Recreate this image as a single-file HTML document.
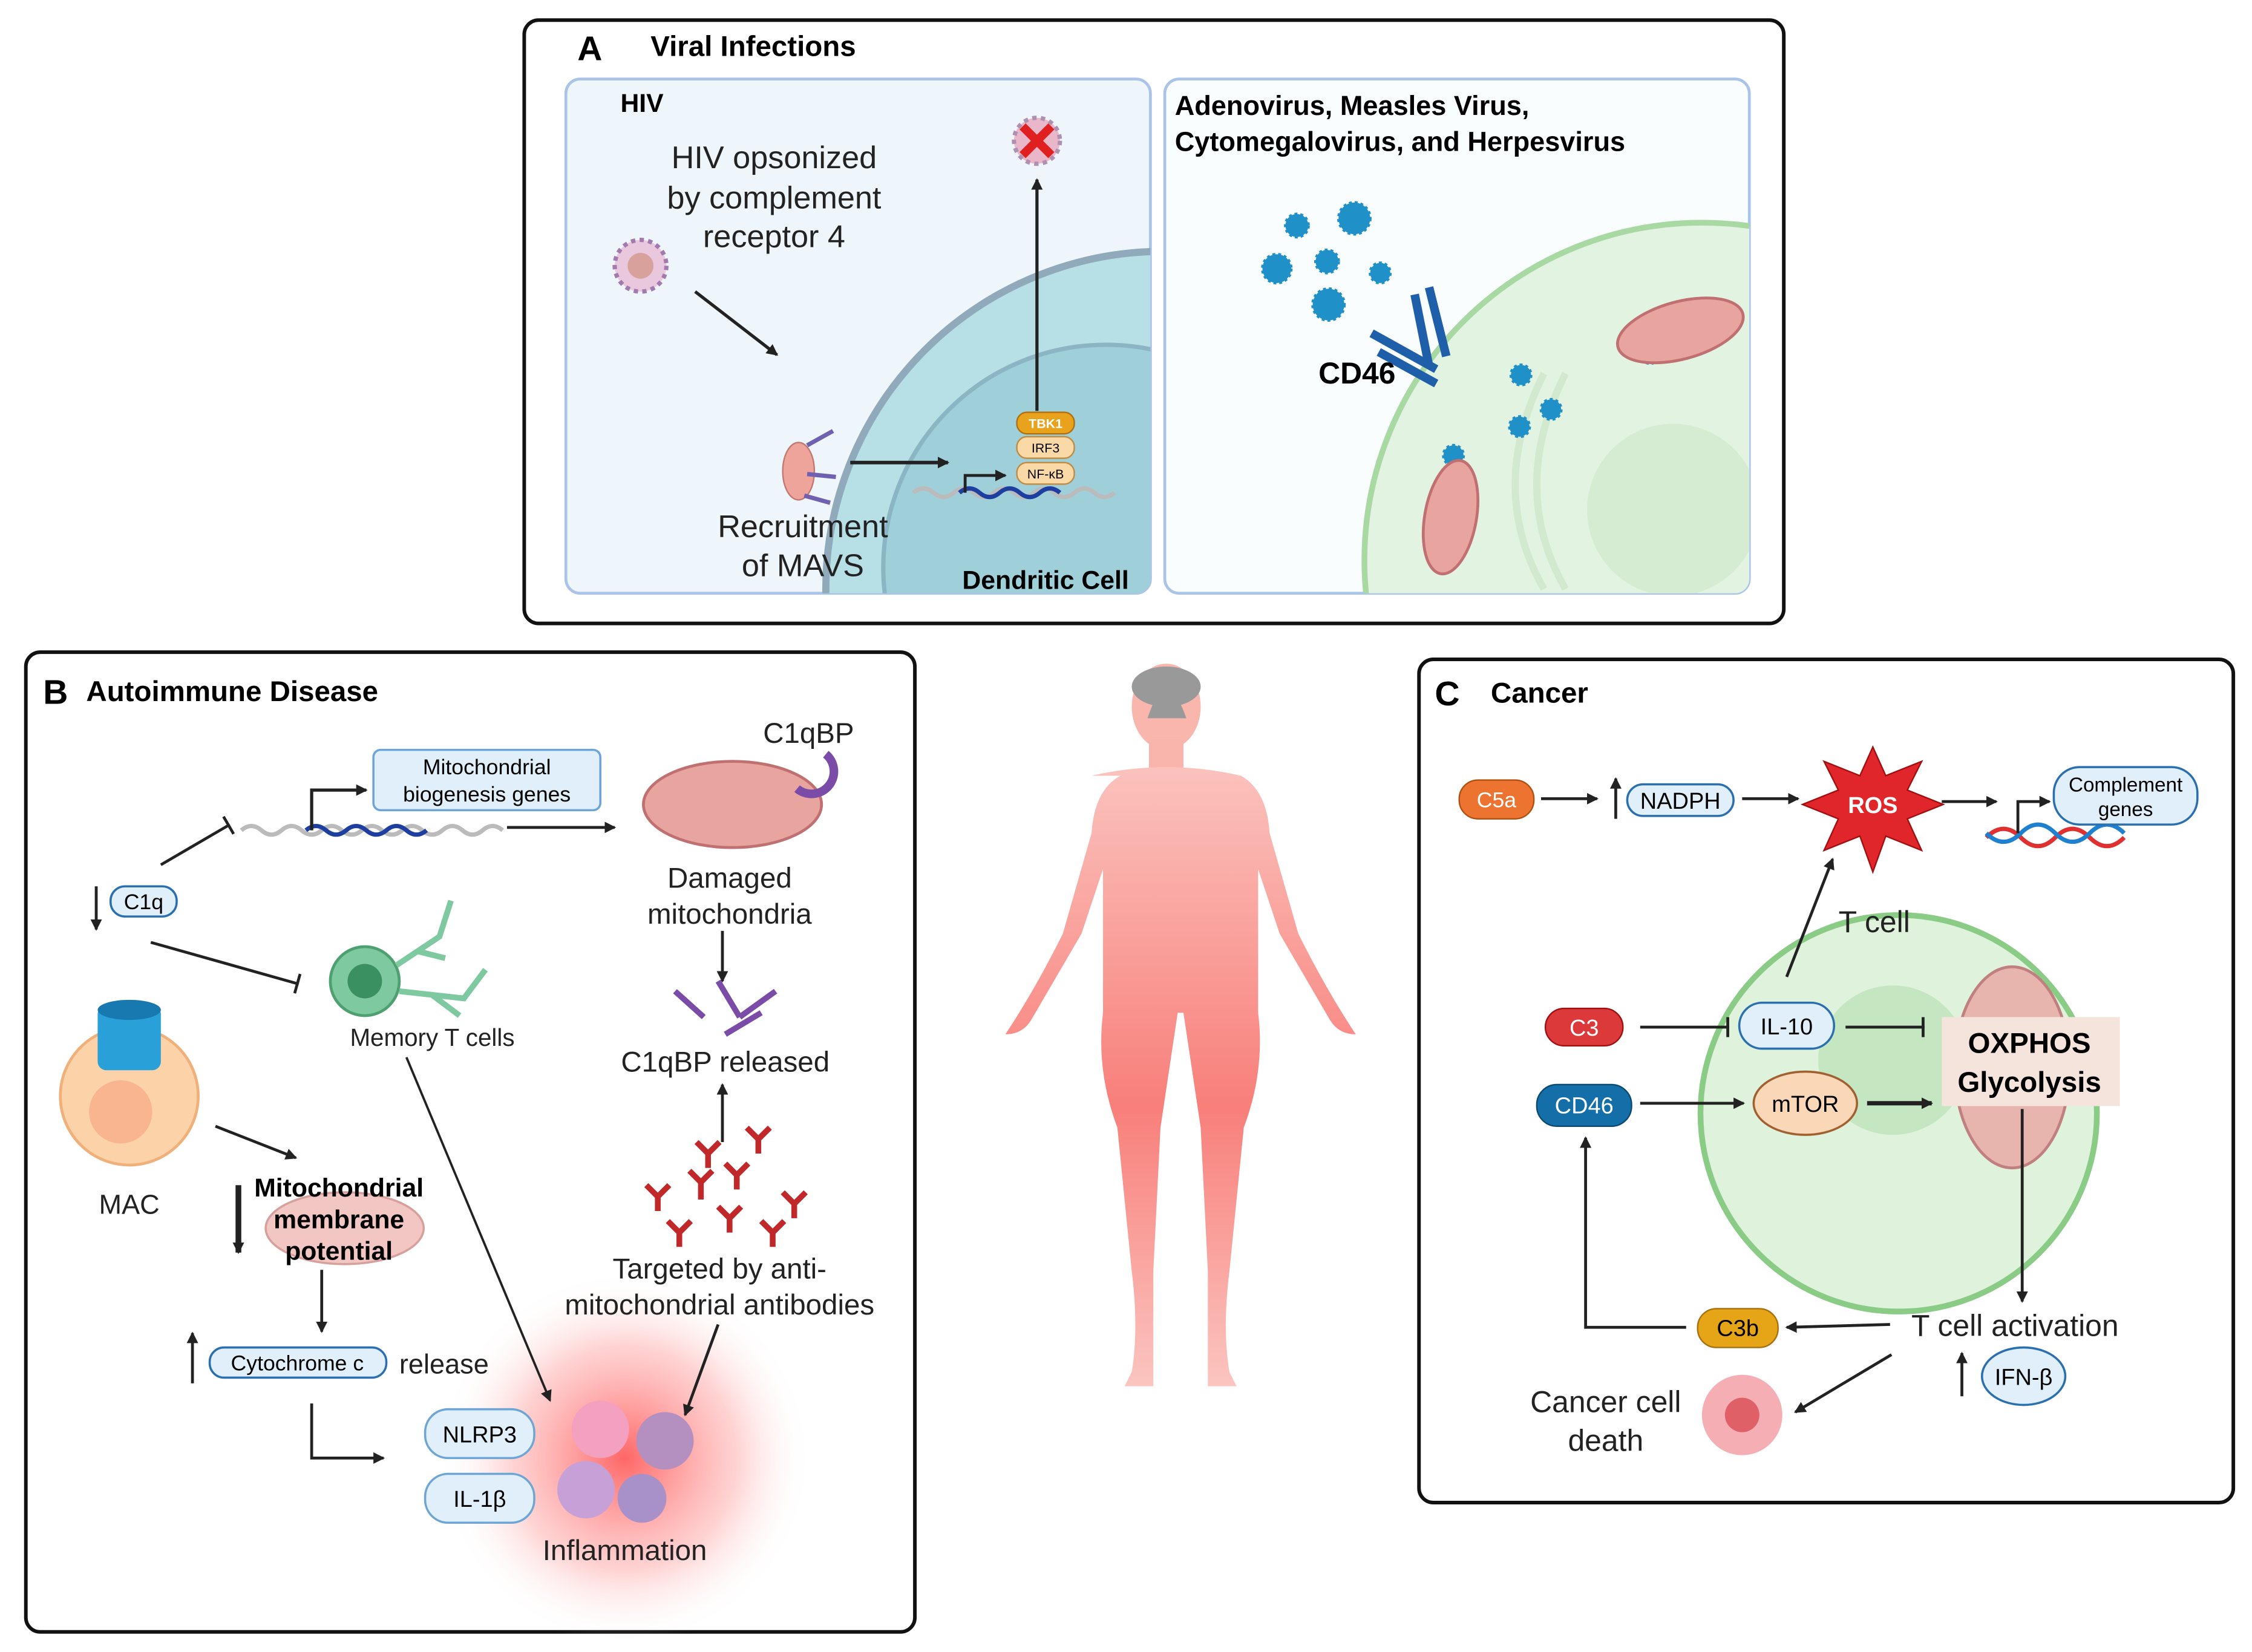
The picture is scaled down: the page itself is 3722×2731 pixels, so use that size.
<!DOCTYPE html>
<html><head><meta charset="utf-8"><style>
html,body{margin:0;padding:0;background:#fff;}
svg{display:block;}
text{font-family:"Liberation Sans",sans-serif;}
</style></head><body>
<svg width="3722" height="2731" viewBox="0 0 1568 1150" preserveAspectRatio="none" xmlns="http://www.w3.org/2000/svg">
<defs>
<marker id="ah" markerWidth="8" markerHeight="8" refX="7" refY="4" orient="auto" markerUnits="userSpaceOnUse"><path d="M0,0 L8,4 L0,8 z" fill="#222"/></marker>
<marker id="tb" markerWidth="4" markerHeight="14" refX="2" refY="7" orient="auto" markerUnits="userSpaceOnUse"><rect x="0" y="0" width="2" height="14" fill="#222"/></marker>
<clipPath id="cA1"><rect x="394" y="55" width="407" height="358" rx="10"/></clipPath>
<clipPath id="cA2"><rect x="811" y="55" width="407" height="358" rx="10"/></clipPath>
<linearGradient id="body" x1="0" y1="0" x2="0" y2="1"><stop offset="0" stop-color="#fbc2bd"/><stop offset="0.55" stop-color="#f87f7a"/><stop offset="1" stop-color="#fbc5c0"/></linearGradient>
<radialGradient id="infl"><stop offset="0" stop-color="#ff4040" stop-opacity="0.8"/><stop offset="0.6" stop-color="#ff8080" stop-opacity="0.35"/><stop offset="1" stop-color="#fff" stop-opacity="0"/></radialGradient>
</defs>

<!-- Panel A -->
<rect x="365" y="14" width="877" height="420" rx="10" fill="#fff" stroke="#111" stroke-width="2.5"/>
<text x="402" y="42" font-size="24" font-weight="bold">A</text>
<text x="453" y="39" font-size="20" font-weight="bold">Viral Infections</text>
<rect x="394" y="55" width="407" height="358" rx="10" fill="#eef6fb" stroke="#a9c4e8" stroke-width="2"/>
<g clip-path="url(#cA1)">
<circle cx="810" cy="410" r="235" fill="#b6dfe6" stroke="#90a9bb" stroke-width="5"/>
<circle cx="770" cy="395" r="155" fill="#9fcfd8" stroke="#8bb5c2" stroke-width="3"/>
</g>
<text x="432" y="78" font-size="18" font-weight="bold">HIV</text>
<text x="539" y="117" font-size="22" text-anchor="middle" fill="#222">HIV opsonized</text>
<text x="539" y="145" font-size="22" text-anchor="middle" fill="#222">by complement</text>
<text x="539" y="172" font-size="22" text-anchor="middle" fill="#222">receptor 4</text>
<circle cx="446" cy="185" r="18" fill="#e9c7dc" stroke="#a37ab0" stroke-width="3" stroke-dasharray="3 3"/>
<circle cx="446" cy="185" r="9" fill="#d9a19b"/>
<line x1="484" y1="203" x2="541" y2="247" stroke="#222" stroke-width="2.2" marker-end="url(#ah)"/>
<ellipse cx="556" cy="328" rx="11" ry="20" fill="#eea49a" stroke="#c07870"/>
<path d="M562,310 l18,-10 M562,330 l20,2 M560,345 l18,5" stroke="#7060b0" stroke-width="3"/>
<line x1="592" y1="322" x2="660" y2="322" stroke="#222" stroke-width="2.5" marker-end="url(#ah)"/>
<text x="559" y="374" font-size="22" text-anchor="middle" fill="#222">Recruitment</text>
<text x="559" y="401" font-size="22" text-anchor="middle" fill="#222">of MAVS</text>
<text x="728" y="410" font-size="18" font-weight="bold" text-anchor="middle">Dendritic Cell</text>
<path d="M636,343 q7,-6 14,0 t14,0 t14,0 t14,0 t14,0 t14,0 t14,0 t14,0 t14,0 t14,0" stroke="#bbb" stroke-width="3" fill="none"/>
<path d="M668,343 q7,-6 14,0 t14,0 t14,0 t14,0 t14,0" stroke="#1e3fa0" stroke-width="3" fill="none"/>
<path d="M672,343 v-12 h28" stroke="#222" stroke-width="2" fill="none" marker-end="url(#ah)"/>
<rect x="708" y="287" width="40" height="15" rx="7" fill="#e8a21c" stroke="#b07010"/><text x="728" y="298" font-size="9" font-weight="bold" fill="#fff" text-anchor="middle">TBK1</text>
<rect x="708" y="304" width="40" height="15" rx="7" fill="#fbd9a7" stroke="#c08a40"/><text x="728" y="315" font-size="9" text-anchor="middle">IRF3</text>
<rect x="708" y="322" width="40" height="15" rx="7" fill="#fbd9a7" stroke="#c08a40"/><text x="728" y="333" font-size="9" text-anchor="middle">NF-κB</text>
<line x1="722" y1="286" x2="722" y2="125" stroke="#222" stroke-width="2.2" marker-end="url(#ah)"/>
<circle cx="722" cy="98" r="16" fill="#e9b7c9" stroke="#b090b0" stroke-dasharray="3 3" stroke-width="3"/>
<path d="M712,88 l20,20 M732,88 l-20,20" stroke="#e02020" stroke-width="6"/>

<rect x="811" y="55" width="407" height="358" rx="10" fill="#fafdfe" stroke="#a9c4e8" stroke-width="2"/>
<g clip-path="url(#cA2)">
<circle cx="1185" cy="390" r="235" fill="#e3f3e2" stroke="#a8d9a3" stroke-width="4"/>
<circle cx="1165" cy="355" r="60" fill="#d5ecd3"/>
<path d="M1090,260 q-40,80 0,150" stroke="#d2e8cf" stroke-width="5" fill="none"/>
<path d="M1075,260 q-40,80 0,150" stroke="#d2e8cf" stroke-width="5" fill="none"/>
</g>
<text x="818" y="80" font-size="19" font-weight="bold">Adenovirus, Measles Virus,</text>
<text x="818" y="105" font-size="19" font-weight="bold">Cytomegalovirus, and Herpesvirus</text>
<g fill="#2090c8" stroke="#2090c8" stroke-width="2" stroke-dasharray="2 2">
<circle cx="903" cy="157" r="8"/><circle cx="943" cy="152" r="11"/><circle cx="889" cy="187" r="10"/><circle cx="924" cy="182" r="8"/><circle cx="961" cy="190" r="7"/><circle cx="925" cy="212" r="11"/><circle cx="1059" cy="261" r="7"/><circle cx="1080" cy="285" r="7"/><circle cx="1058" cy="297" r="7"/><circle cx="1149" cy="246" r="7"/><circle cx="1012" cy="317" r="7"/>
</g>
<path d="M955,232 l45,25 M960,245 l40,22 M985,205 l10,50 M995,200 l12,48" stroke="#1f5ea8" stroke-width="6" fill="none"/>
<text x="918" y="267" font-size="21" font-weight="bold">CD46</text>
<ellipse cx="1170" cy="230" rx="45" ry="20" transform="rotate(-15 1170 230)" fill="#e8a5a0" stroke="#c07070" stroke-width="2"/>
<ellipse cx="1010" cy="360" rx="18" ry="40" transform="rotate(10 1010 360)" fill="#e8a5a0" stroke="#c07070" stroke-width="2"/>

<!-- Panel B -->
<rect x="18" y="454" width="619" height="682" rx="10" fill="#fff" stroke="#111" stroke-width="2.5"/>
<text x="30" y="490" font-size="24" font-weight="bold">B</text>
<text x="60" y="488" font-size="20" font-weight="bold">Autoimmune Disease</text>
<circle cx="435" cy="1015" r="130" fill="url(#infl)"/>
<rect x="260" y="522" width="158" height="42" rx="5" fill="#e1effa" stroke="#6ca5d6" stroke-width="1.5"/>
<text x="339" y="539" font-size="15" text-anchor="middle">Mitochondrial</text>
<text x="339" y="558" font-size="15" text-anchor="middle">biogenesis genes</text>
<path d="M168,578 q7,-6 14,0 t14,0 t14,0 t14,0 t14,0 t14,0 t14,0 t14,0 t14,0 t14,0 t14,0 t14,0 t14,0" stroke="#bbb" stroke-width="3" fill="none"/>
<path d="M213,578 q7,-6 14,0 t14,0 t14,0 t14,0 t14,0 t14,0" stroke="#1e3fa0" stroke-width="3" fill="none"/>
<path d="M217,578 v-28 h38" stroke="#222" stroke-width="2.2" fill="none" marker-end="url(#ah)"/>
<line x1="353" y1="576" x2="428" y2="576" stroke="#222" stroke-width="2" marker-end="url(#ah)"/>
<line x1="112" y1="602" x2="160" y2="574" stroke="#222" stroke-width="2" marker-end="url(#tb)"/>
<line x1="67" y1="617" x2="67" y2="647" stroke="#222" stroke-width="2" marker-end="url(#ah)"/>
<rect x="77" y="617" width="46" height="21" rx="10" fill="#e1effa" stroke="#2a6fb0" stroke-width="1.5"/><text x="100" y="633" font-size="15" text-anchor="middle">C1q</text>
<line x1="105" y1="656" x2="208" y2="685" stroke="#222" stroke-width="2" marker-end="url(#tb)"/>
<ellipse cx="510" cy="560" rx="62" ry="30" fill="#e8a5a0" stroke="#c07070" stroke-width="2"/>
<path d="M575,525 a14,14 0 1 1 -20,24" stroke="#7a4ca8" stroke-width="6" fill="none"/>
<text x="563" y="517" font-size="20" text-anchor="middle" fill="#222">C1qBP</text>
<text x="508" y="618" font-size="20" text-anchor="middle" fill="#222">Damaged</text>
<text x="508" y="643" font-size="20" text-anchor="middle" fill="#222">mitochondria</text>
<line x1="503" y1="648" x2="503" y2="683" stroke="#222" stroke-width="2" marker-end="url(#ah)"/>
<path d="M470,690 l20,18 M500,683 l15,25 M540,690 l-25,18 M530,705 l-25,15" stroke="#7a4ca8" stroke-width="4"/>
<text x="505" y="746" font-size="20" text-anchor="middle" fill="#222">C1qBP released</text>
<line x1="503" y1="795" x2="503" y2="755" stroke="#222" stroke-width="2" marker-end="url(#ah)"/>
<g stroke="#c0282a" stroke-width="4" fill="none">
<path d="M450,825 l8,8 l8,-8 M458,833 v10"/><path d="M480,815 l8,8 l8,-8 M488,823 v12"/><path d="M520,785 l8,8 l8,-8 M528,793 v10"/><path d="M545,830 l8,8 l8,-8 M553,838 v10"/><path d="M500,840 l8,8 l8,-8 M508,848 v10"/><path d="M465,850 l8,8 l8,-8 M473,858 v10"/><path d="M530,850 l8,8 l8,-8 M538,858 v10"/><path d="M505,810 l8,8 l8,-8 M513,818 v10"/><path d="M485,795 l8,8 l8,-8 M493,803 v10"/>
</g>
<text x="501" y="890" font-size="20" text-anchor="middle" fill="#222">Targeted by anti-</text>
<text x="501" y="915" font-size="20" text-anchor="middle" fill="#222">mitochondrial antibodies</text>
<line x1="500" y1="922" x2="477" y2="985" stroke="#222" stroke-width="2" marker-end="url(#ah)"/>
<circle cx="254" cy="683" r="24" fill="#7ec9a0" stroke="#4ea070" stroke-width="2"/><circle cx="254" cy="683" r="12" fill="#3a9060"/>
<path d="M276,672 l30,-20 l8,-25 M290,662 l20,5 M278,690 l45,5 l15,-20 M300,692 l20,15" stroke="#7ec9a0" stroke-width="4" fill="none"/>
<text x="301" y="728" font-size="17" text-anchor="middle" fill="#222">Memory T cells</text>
<line x1="283" y1="736" x2="383" y2="975" stroke="#222" stroke-width="1.6" marker-end="url(#ah)"/>
<circle cx="90" cy="763" r="48" fill="#fcd3a8" stroke="#f0b07a" stroke-width="2"/>
<circle cx="84" cy="774" r="22" fill="#f8b590"/>
<rect x="68" y="700" width="44" height="45" rx="6" fill="#2aa0d8"/><ellipse cx="90" cy="703" rx="22" ry="7" fill="#1878b0"/>
<text x="90" y="845" font-size="19" text-anchor="middle" fill="#222">MAC</text>
<line x1="150" y1="784" x2="206" y2="806" stroke="#222" stroke-width="2" marker-end="url(#ah)"/>
<ellipse cx="240" cy="855" rx="55" ry="25" fill="#f1c6c3" stroke="#d8a09c" stroke-width="1.5"/>
<line x1="166" y1="825" x2="166" y2="872" stroke="#222" stroke-width="4" marker-end="url(#ah)"/>
<text x="236" y="833" font-size="18" font-weight="bold" text-anchor="middle">Mitochondrial</text>
<text x="236" y="855" font-size="18" font-weight="bold" text-anchor="middle">membrane</text>
<text x="236" y="877" font-size="18" font-weight="bold" text-anchor="middle">potential</text>
<line x1="224" y1="884" x2="224" y2="927" stroke="#222" stroke-width="2" marker-end="url(#ah)"/>
<line x1="134" y1="963" x2="134" y2="928" stroke="#222" stroke-width="2" marker-end="url(#ah)"/>
<rect x="146" y="938" width="123" height="21" rx="10" fill="#e1effa" stroke="#2a6fb0" stroke-width="1.5"/><text x="207" y="954" font-size="15" text-anchor="middle">Cytochrome c</text>
<text x="278" y="956" font-size="19" fill="#222">release</text>
<path d="M217,977 v38 h50" stroke="#222" stroke-width="2" fill="none" marker-end="url(#ah)"/>
<rect x="296" y="981" width="76" height="34" rx="16" fill="#e1effa" stroke="#6ca5d6" stroke-width="1.5"/><text x="334" y="1004" font-size="16" text-anchor="middle">NLRP3</text>
<rect x="296" y="1026" width="76" height="34" rx="16" fill="#e1effa" stroke="#6ca5d6" stroke-width="1.5"/><text x="334" y="1049" font-size="16" text-anchor="middle">IL-1β</text>
<circle cx="418" cy="995" r="20" fill="#f4a0c0"/><circle cx="463" cy="1003" r="20" fill="#b390c0"/><circle cx="408" cy="1037" r="20" fill="#c8a0d8"/><circle cx="447" cy="1043" r="17" fill="#a890c8"/>
<text x="435" y="1086" font-size="20" text-anchor="middle" fill="#222">Inflammation</text>

<!-- Human -->
<g fill="url(#body)">
<ellipse cx="812" cy="492" rx="24" ry="30" fill="#f8b6ad"/>
<path d="M799,500 q13,-40 27,0 z" fill="#999"/>
<ellipse cx="812" cy="478" rx="24" ry="14" fill="#999"/>
<rect x="800" y="515" width="24" height="25" fill="#f9b4ab"/>
<path d="M760,540 q52,-12 104,0 q18,10 20,40 l20,70 q20,40 40,70 q-12,0 -18,-10 l-35,-60 l-15,-45 l0,100 q5,40 -10,80 l-10,100 q-5,40 0,70 l5,10 h-20 l0,-80 l-5,-100 l-12,-80 h-4 l-12,80 l-5,100 l0,80 h-20 l5,-10 q5,-30 0,-70 l-10,-100 q-15,-40 -10,-80 l0,-100 l-15,45 l-35,60 q-6,10 -18,10 q20,-30 40,-70 l20,-70 q2,-30 20,-40 z"/>
</g>

<!-- Panel C -->
<rect x="988" y="459" width="567" height="587" rx="10" fill="#fff" stroke="#111" stroke-width="2.5"/>
<text x="999" y="491" font-size="24" font-weight="bold">C</text>
<text x="1038" y="489" font-size="20" font-weight="bold">Cancer</text>
<circle cx="1322" cy="775" r="138" fill="#dff2dc" stroke="#8acc86" stroke-width="4"/>
<circle cx="1318" cy="738" r="52" fill="#c4e6c0"/>
<ellipse cx="1401" cy="743" rx="40" ry="70" fill="#e8b4ae" stroke="#c08080" stroke-width="2"/>
<rect x="1016" y="543" width="52" height="27" rx="13" fill="#ec7430" stroke="#b05010"/><text x="1042" y="562" font-size="15" fill="#fff" text-anchor="middle">C5a</text>
<line x1="1073" y1="556" x2="1112" y2="556" stroke="#222" stroke-width="2" marker-end="url(#ah)"/>
<line x1="1125" y1="570" x2="1125" y2="542" stroke="#222" stroke-width="2" marker-end="url(#ah)"/>
<rect x="1133" y="546" width="74" height="22" rx="11" fill="#e1effa" stroke="#2a6fb0" stroke-width="1.5"/><text x="1170" y="563" font-size="16" text-anchor="middle">NADPH</text>
<line x1="1213" y1="556" x2="1252" y2="556" stroke="#222" stroke-width="2" marker-end="url(#ah)"/>
<path d="M1304,520 l9,20 l25,-10 l-10,20 l25,10 l-25,10 l10,22 l-25,-10 l-9,25 l-9,-25 l-25,10 l10,-22 l-25,-10 l25,-10 l-10,-20 l25,10 z" fill="#e0262a" stroke="#a01010"/>
<text x="1304" y="566" font-size="16" font-weight="bold" fill="#fff" text-anchor="middle">ROS</text>
<line x1="1352" y1="558" x2="1390" y2="558" stroke="#222" stroke-width="2" marker-end="url(#ah)"/>
<path d="M1383,583 q12,-12 24,0 t24,0 t24,0 t24,0" stroke="#e03030" stroke-width="3" fill="none"/>
<path d="M1383,580 q12,12 24,0 t24,0 t24,0 t24,0" stroke="#2080d0" stroke-width="3" fill="none"/>
<path d="M1405,580 v-22 h22" stroke="#222" stroke-width="2" fill="none" marker-end="url(#ah)"/>
<rect x="1430" y="534" width="100" height="40" rx="18" fill="#e1effa" stroke="#2a6fb0" stroke-width="1.5"/>
<text x="1480" y="551" font-size="14" text-anchor="middle">Complement</text><text x="1480" y="568" font-size="14" text-anchor="middle">genes</text>
<text x="1305" y="649" font-size="21" text-anchor="middle" fill="#222">T cell</text>
<line x1="1244" y1="680" x2="1276" y2="598" stroke="#222" stroke-width="2" marker-end="url(#ah)"/>
<rect x="1076" y="702" width="54" height="26" rx="13" fill="#dc3a3a" stroke="#a01010"/><text x="1103" y="721" font-size="16" fill="#fff" text-anchor="middle">C3</text>
<line x1="1142" y1="715" x2="1204" y2="715" stroke="#222" stroke-width="2" marker-end="url(#tb)"/>
<rect x="1211" y="698" width="66" height="32" rx="16" fill="#e1effa" stroke="#2a6fb0" stroke-width="1.5"/><text x="1244" y="720" font-size="16" text-anchor="middle">IL-10</text>
<line x1="1285" y1="715" x2="1340" y2="715" stroke="#222" stroke-width="2" marker-end="url(#tb)"/>
<rect x="1352" y="708" width="124" height="62" fill="#f4e4dc"/>
<text x="1413" y="733" font-size="20" font-weight="bold" text-anchor="middle">OXPHOS</text>
<text x="1413" y="760" font-size="20" font-weight="bold" text-anchor="middle">Glycolysis</text>
<rect x="1070" y="755" width="66" height="29" rx="14" fill="#146fa8" stroke="#0a4a70"/><text x="1103" y="775" font-size="16" fill="#fff" text-anchor="middle">CD46</text>
<line x1="1142" y1="768" x2="1214" y2="768" stroke="#222" stroke-width="2" marker-end="url(#ah)"/>
<ellipse cx="1257" cy="768" rx="36" ry="22" fill="#fad7b6" stroke="#a06030" stroke-width="1.5"/><text x="1257" y="774" font-size="16" text-anchor="middle">mTOR</text>
<line x1="1300" y1="768" x2="1345" y2="768" stroke="#222" stroke-width="3" marker-end="url(#ah)"/>
<line x1="1408" y1="772" x2="1408" y2="906" stroke="#222" stroke-width="2" marker-end="url(#ah)"/>
<text x="1403" y="930" font-size="21" text-anchor="middle" fill="#222">T cell activation</text>
<line x1="1316" y1="922" x2="1244" y2="924" stroke="#222" stroke-width="2" marker-end="url(#ah)"/>
<rect x="1182" y="911" width="56" height="27" rx="13" fill="#e5a516" stroke="#a87010"/><text x="1210" y="930" font-size="16" text-anchor="middle">C3b</text>
<path d="M1174,924 h-70 v-132" stroke="#222" stroke-width="2" fill="none" marker-end="url(#ah)"/>
<line x1="1317" y1="943" x2="1250" y2="983" stroke="#222" stroke-width="2" marker-end="url(#ah)"/>
<line x1="1366" y1="972" x2="1366" y2="942" stroke="#222" stroke-width="2" marker-end="url(#ah)"/>
<ellipse cx="1409" cy="958" rx="29" ry="20" fill="#e1effa" stroke="#2a6fb0" stroke-width="1.5"/><text x="1409" y="964" font-size="16" text-anchor="middle">IFN-β</text>
<circle cx="1213" cy="985" r="28" fill="#f4a0a8" opacity="0.85"/><circle cx="1213" cy="985" r="12" fill="#e06068"/>
<text x="1118" y="983" font-size="21" text-anchor="middle" fill="#222">Cancer cell</text>
<text x="1118" y="1010" font-size="21" text-anchor="middle" fill="#222">death</text>
</svg>
</body></html>
